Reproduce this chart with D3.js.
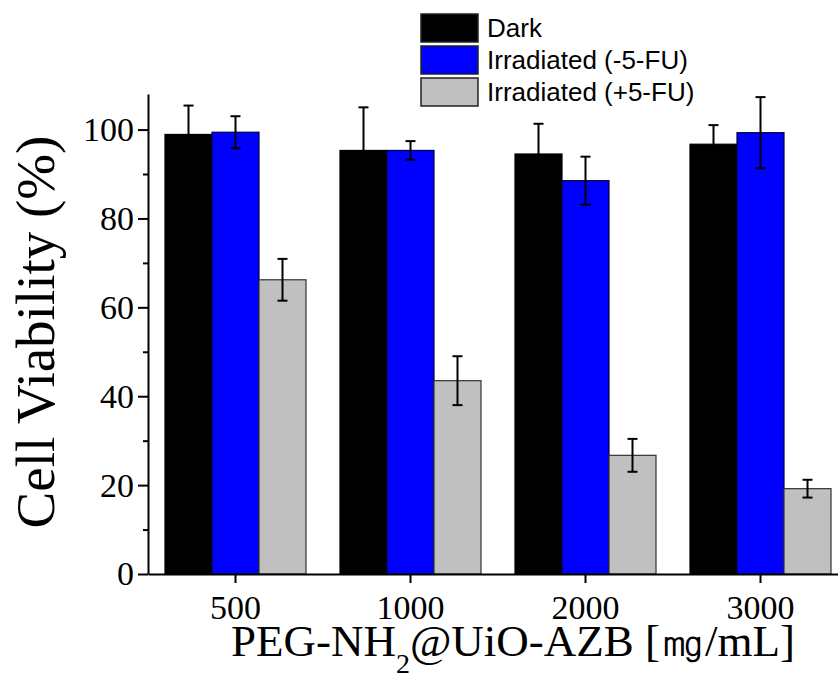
<!DOCTYPE html>
<html>
<head>
<meta charset="utf-8">
<script src="https://cdn.jsdelivr.net/npm/d3@7"></script>
<style>
  html, body { margin: 0; padding: 0; background: #fff; }
  svg { display: block; }
</style>
</head>
<body>
<svg id="chart" width="838" height="679"></svg>
<script>
// Concentrations on the x axis
const categories = ["500", "1000", "2000", "3000"];
// Series names (legend order)
const seriesNames = ["Dark", "Irradiated (-5-FU)", "Irradiated (+5-FU)"];
// Mean cell viability (%) per series
const darkValues = [98.9, 95.3, 94.5, 96.7];
const irrMinusValues = [99.4, 95.3, 88.5, 99.3];
const irrPlusValues = [66.2, 43.5, 26.7, 19.2];
// Standard deviations
const darkErrors = [6.5, 9.7, 6.8, 4.3];
const irrMinusErrors = [3.6, 2.1, 5.4, 8.0];
const irrPlusErrors = [4.7, 5.5, 3.7, 2.0];
// Y tick values
const yMajorTicks = [0, 20, 40, 60, 80, 100];
const yMinorTicks = [10, 30, 50, 70, 90];

const fills = ["#000000", "#0000ff", "#c0c0c0"];
const strokes = ["#000000", "#00003a", "#333333"];

const seriesValues = [darkValues, irrMinusValues, irrPlusValues];
const seriesErrors = [darkErrors, irrMinusErrors, irrPlusErrors];

const svg = d3.select("#chart");
const serif = "'Liberation Serif', 'Times New Roman', serif";
const sans = "'Liberation Sans', Arial, sans-serif";

const x0 = d3.scaleBand().domain(categories).range([148, 848]).padding(0);
const groupWidth = 141;
const x1 = d3.scaleBand().domain(d3.range(seriesNames.length)).range([0, groupWidth]).padding(0);
const y = d3.scaleLinear().domain([0, 108]).range([574, 94]);

const groupOffset = (x0.bandwidth() - groupWidth) / 2;

// Bars
const groups = svg.append("g").selectAll("g")
  .data(categories)
  .join("g")
  .attr("transform", d => `translate(${x0(d) + groupOffset},0)`);

groups.each(function(cat, ci) {
  const g = d3.select(this);
  seriesNames.forEach((s, si) => {
    const v = seriesValues[si][ci];
    g.append("rect")
      .attr("x", x1(si))
      .attr("y", y(v))
      .attr("width", x1.bandwidth())
      .attr("height", y(0) - y(v))
      .attr("fill", fills[si])
      .attr("stroke", strokes[si])
      .attr("stroke-width", 1.2);
  });
  // Error bars drawn on top
  seriesNames.forEach((s, si) => {
    const v = seriesValues[si][ci];
    const e = seriesErrors[si][ci];
    const cx = x1(si) + x1.bandwidth() / 2;
    const eg = g.append("g").attr("stroke", "#000").attr("stroke-width", 2);
    eg.append("line").attr("x1", cx).attr("x2", cx).attr("y1", y(v + e)).attr("y2", y(v - e));
    eg.append("line").attr("x1", cx - 5).attr("x2", cx + 5).attr("y1", y(v + e)).attr("y2", y(v + e));
    eg.append("line").attr("x1", cx - 5).attr("x2", cx + 5).attr("y1", y(v - e)).attr("y2", y(v - e));
  });
});

// Y axis
const yAxis = svg.append("g")
  .attr("transform", "translate(148,0)")
  .call(d3.axisLeft(y).tickValues(yMajorTicks).tickSize(10).tickSizeOuter(0).tickPadding(4));
yAxis.select(".domain").attr("stroke", "#000").attr("stroke-width", 2);
yAxis.selectAll(".tick line").attr("stroke-width", 2);
yAxis.selectAll(".tick text")
  .attr("font-family", serif).attr("font-size", 34).attr("fill", "#000");
svg.append("g")
  .attr("transform", "translate(148,0)")
  .call(d3.axisLeft(y).tickValues(yMinorTicks).tickSize(5).tickSizeOuter(0).tickFormat(""))
  .call(g => g.select(".domain").remove())
  .selectAll(".tick line").attr("stroke-width", 2);

// X axis
const xAxis = svg.append("g")
  .attr("transform", "translate(0,574)")
  .call(d3.axisBottom(x0).tickSize(9).tickSizeOuter(0).tickPadding(12));
xAxis.select(".domain").attr("stroke", "#000").attr("stroke-width", 2);
xAxis.selectAll(".tick line").attr("stroke-width", 2);
xAxis.selectAll(".tick text")
  .attr("font-family", serif).attr("font-size", 34).attr("fill", "#000");

// Axis titles
svg.append("text")
  .attr("transform", "translate(54,332) rotate(-90)")
  .attr("text-anchor", "middle")
  .attr("font-family", serif)
  .attr("font-size", 55)
  .text("Cell Viability (%)");

const xt = svg.append("text")
  .attr("x", 513).attr("y", 656)
  .attr("text-anchor", "middle")
  .attr("font-family", serif)
  .attr("font-size", 45);
xt.append("tspan").text("PEG-NH");
xt.append("tspan").attr("font-size", 28).attr("dy", 17).text("2");
xt.append("tspan").attr("dy", -17).text("@UiO-AZB [\u338E/mL]");

// Legend
const legend = svg.append("g").attr("transform", "translate(421,14)");
seriesNames.forEach((s, i) => {
  const row = legend.append("g").attr("transform", `translate(0,${i * 32})`);
  row.append("rect")
    .attr("width", 57).attr("height", 28)
    .attr("fill", fills[i]).attr("stroke", "#222").attr("stroke-width", 1.5);
  row.append("text")
    .attr("x", 66).attr("y", 23)
    .attr("font-family", sans).attr("font-size", 26)
    .text(s);
});
</script>
</body>
</html>
